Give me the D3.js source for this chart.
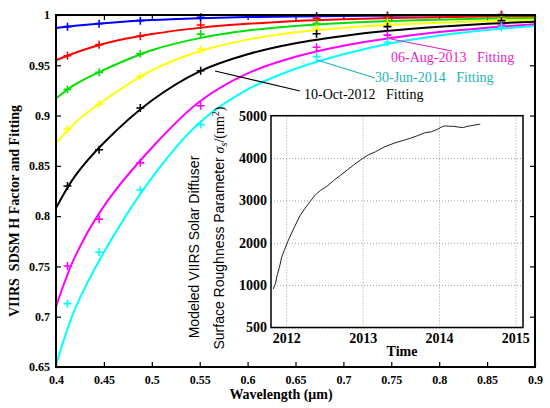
<!DOCTYPE html>
<html>
<head>
<meta charset="utf-8">
<script src="https://cdn.jsdelivr.net/npm/d3@7"></script>
<style>
  body { margin: 0; background: #fff; }
  svg { display: block; font-family: "Liberation Serif", "Times New Roman", serif; }
</style>
</head>
<body>
<div id="chart"></div>
<script>
(function() {
  'use strict';

  // measured SDSM H factor (crosses) at the VIIRS band wavelengths
  const bandWavelengths = [0.412, 0.445, 0.488, 0.551, 0.672, 0.746, 0.865];
  const hBlue    = [0.9884, 0.9914, 0.9944, 0.9977, 0.9990, 0.9995, 0.9998];
  const hRed     = [0.9595, 0.9705, 0.9788, 0.9900, 0.9967, 0.9980, 1.0005];
  const hGreen   = [0.9260, 0.9430, 0.9615, 0.9810, 0.9917, 0.9944, 0.9975];
  const hYellow  = [0.8863, 0.9112, 0.9390, 0.9660, 0.9868, 0.9922, 0.9960];
  const hBlack   = [0.8300, 0.8660, 0.9075, 0.9446, 0.9814, 0.9884, 0.9944];
  const hMagenta = [0.7504, 0.7970, 0.8530, 0.9098, 0.9680, 0.9800, 0.9900];
  const hCyan    = [0.7130, 0.7640, 0.8260, 0.8910, 0.9586, 0.9728, 0.9878];

  // fitting curves, read at these wavelengths
  const fitWavelengths = [0.40, 0.42, 0.45, 0.50, 0.55, 0.60, 0.65, 0.70, 0.75, 0.80, 0.85, 0.90];
  const fitBlue    = [0.9870, 0.9892, 0.9918, 0.9950, 0.9968, 0.9979, 0.9986, 0.9990, 0.9993, 0.9995, 0.9996, 0.9997];
  const fitRed     = [0.9550, 0.9625, 0.9715, 0.9810, 0.9872, 0.9912, 0.9940, 0.9958, 0.9970, 0.9978, 0.9984, 0.9988];
  const fitGreen   = [0.9170, 0.9310, 0.9455, 0.9650, 0.9770, 0.9845, 0.9890, 0.9920, 0.9940, 0.9954, 0.9964, 0.9971];
  const fitYellow  = [0.8720, 0.8930, 0.9150, 0.9450, 0.9640, 0.9755, 0.9828, 0.9872, 0.9902, 0.9924, 0.9940, 0.9953];
  const fitBlack   = [0.8080, 0.8400, 0.8730, 0.9150, 0.9440, 0.9610, 0.9720, 0.9792, 0.9845, 0.9883, 0.9912, 0.9934];
  const fitMagenta = [0.7100, 0.7600, 0.8100, 0.8680, 0.9140, 0.9420, 0.9585, 0.9695, 0.9772, 0.9830, 0.9874, 0.9908];
  const fitCyan    = [0.6520, 0.7080, 0.7640, 0.8380, 0.8930, 0.9260, 0.9465, 0.9610, 0.9720, 0.9797, 0.9852, 0.9890];

  const seriesColors = ['#0000ff', '#ff0000', '#00e000', '#ffff00', '#000000', '#ff00ff', '#00ffff'];
  const measured = [hBlue, hRed, hGreen, hYellow, hBlack, hMagenta, hCyan];
  const fits = [fitBlue, fitRed, fitGreen, fitYellow, fitBlack, fitMagenta, fitCyan];

  const xTicks = [0.4, 0.45, 0.5, 0.55, 0.6, 0.65, 0.7, 0.75, 0.8, 0.85, 0.9];
  const yTicks = [0.65, 0.7, 0.75, 0.8, 0.85, 0.9, 0.95, 1];

  // inset: modeled surface roughness parameter over time
  const insetYears = [2011.83, 2011.86, 2011.88, 2011.91, 2011.94, 2011.98, 2012.02, 2012.07, 2012.12,
    2012.18, 2012.24, 2012.31, 2012.38, 2012.45, 2012.53, 2012.62, 2012.70, 2012.80, 2012.90, 2013.00,
    2013.08, 2013.17, 2013.28, 2013.41, 2013.52, 2013.63, 2013.72, 2013.82, 2013.90, 2013.98, 2014.04,
    2014.08, 2014.14, 2014.19, 2014.26, 2014.32, 2014.37, 2014.41, 2014.47, 2014.54];
  const insetRoughness = [910, 1050, 1230, 1420, 1660, 1850, 2030, 2230, 2420,
    2640, 2800, 2970, 3130, 3240, 3330, 3470, 3580, 3720, 3860, 3990,
    4080, 4150, 4260, 4350, 4410, 4470, 4530, 4600, 4620, 4680, 4740,
    4760, 4750, 4750, 4730, 4720, 4750, 4760, 4780, 4800];
  const insetYearTicks = [2012, 2013, 2014, 2015];
  const insetValueTicks = [0, 1000, 2000, 3000, 4000, 5000];
  const insetValueLabels = ['500', '1000', '2000', '3000', '4000', '5000'];

  const width = 550;
  const height = 408;
  const serif = '"Liberation Serif", "Times New Roman", serif';
  const sans = '"Liberation Sans", Arial, sans-serif';

  const svg = d3.select('#chart')
    .append('svg')
    .attr('width', width)
    .attr('height', height);

  svg.append('rect')
    .attr('width', width)
    .attr('height', height)
    .attr('fill', '#fff');

  const x = d3.scaleLinear().domain([0.4, 0.9]).range([56, 535]);
  const y = d3.scaleLinear().domain([0.65, 1]).range([367, 15]);

  // axes with inward ticks on all four sides
  const fmt = d => String(+d.toFixed(2));
  const axisStyle = (g) => {
    g.selectAll('.domain').remove();
    g.selectAll('.tick line').attr('stroke', '#000').attr('stroke-width', 1.2);
    g.selectAll('.tick text')
      .style('font-family', serif)
      .attr('font-weight', 'bold')
      .attr('font-size', 12)
      .attr('fill', '#000');
  };

  svg.append('g')
    .attr('transform', `translate(0,${y(0.65)})`)
    .call(d3.axisBottom(x).tickValues(xTicks).tickFormat(fmt).tickSizeInner(-5).tickPadding(8))
    .call(axisStyle);
  svg.append('g')
    .attr('transform', `translate(0,${y(1)})`)
    .call(d3.axisTop(x).tickValues(xTicks).tickFormat('').tickSizeInner(-5))
    .call(axisStyle);
  svg.append('g')
    .attr('transform', `translate(${x(0.4)},0)`)
    .call(d3.axisLeft(y).tickValues(yTicks).tickFormat(fmt).tickSizeInner(-5).tickPadding(6))
    .call(axisStyle);
  svg.append('g')
    .attr('transform', `translate(${x(0.9)},0)`)
    .call(d3.axisRight(y).tickValues(yTicks).tickFormat('').tickSizeInner(-5))
    .call(axisStyle);

  // fitting curves
  const line = d3.line()
    .x((d, i) => x(fitWavelengths[i]))
    .y(d => y(d))
    .curve(d3.curveCatmullRom.alpha(0.5));

  svg.append('g')
    .selectAll('path')
    .data(fits)
    .join('path')
    .attr('d', line)
    .attr('fill', 'none')
    .attr('stroke', (d, i) => seriesColors[i])
    .attr('stroke-width', 2);

  // measured crosses
  const crossPath = 'M-4,0H4M0,-4V4';
  measured.forEach((values, s) => {
    svg.append('g')
      .selectAll('path')
      .data(values)
      .join('path')
      .attr('transform', (d, i) => `translate(${x(bandWavelengths[i])},${y(d)})`)
      .attr('d', crossPath)
      .attr('stroke', seriesColors[s])
      .attr('stroke-width', 1.6);
  });

  // frame
  svg.append('rect')
    .attr('x', x(0.4))
    .attr('y', y(1))
    .attr('width', x(0.9) - x(0.4))
    .attr('height', y(0.65) - y(1))
    .attr('fill', 'none')
    .attr('stroke', '#000')
    .attr('stroke-width', 2);

  // annotations
  const notes = [
    { text: '10-Oct-2012   Fitting', color: '#000', tx: 304, ty: 99, lx1: 215, ly1: 71, lx2: 300, ly2: 91 },
    { text: '06-Aug-2013   Fitting', color: '#e61ec8', tx: 391, ty: 62, lx1: 391, ly1: 39, lx2: 452, ly2: 51 },
    { text: '30-Jun-2014   Fitting', color: '#1ab4b4', tx: 375, ty: 82, lx1: 317, ly1: 60, lx2: 375, ly2: 78 }
  ];
  notes.forEach(n => {
    svg.append('line')
      .attr('x1', n.lx1).attr('y1', n.ly1)
      .attr('x2', n.lx2).attr('y2', n.ly2)
      .attr('stroke', n.color)
      .attr('stroke-width', 1.2);
    svg.append('text')
      .attr('x', n.tx)
      .attr('y', n.ty)
      .attr('font-size', 14)
      .attr('fill', n.color)
      .style('white-space', 'pre')
      .text(n.text);
  });

  // axis titles
  svg.append('text')
    .attr('x', 281)
    .attr('y', 399)
    .attr('text-anchor', 'middle')
    .attr('font-weight', 'bold')
    .attr('font-size', 14)
    .text('Wavelength (\u03bcm)');

  svg.append('text')
    .attr('transform', 'translate(19,211) rotate(-90)')
    .attr('text-anchor', 'middle')
    .attr('font-weight', 'bold')
    .attr('font-size', 14)
    .style('white-space', 'pre')
    .text('VIIRS  SDSM H Factor and Fitting');

  // inset chart
  const ix = d3.scaleLinear().domain([2011.8, 2015.1]).range([271, 523]);
  const iy = d3.scaleLinear().domain([0, 5000]).range([327.5, 115.7]);

  const inset = svg.append('g');

  inset.append('rect')
    .attr('x', ix(2011.8))
    .attr('y', iy(5000))
    .attr('width', ix(2015.1) - ix(2011.8))
    .attr('height', iy(0) - iy(5000))
    .attr('fill', '#fff');

  const insetAxisStyle = (g) => {
    g.selectAll('.domain').remove();
    g.selectAll('.tick line')
      .attr('stroke', '#888')
      .attr('stroke-width', 0.8)
      .attr('stroke-dasharray', '1,2');
    g.selectAll('.tick text')
      .style('font-family', serif)
      .attr('font-weight', 'bold')
      .attr('font-size', 14)
      .attr('fill', '#000');
  };

  inset.append('g')
    .attr('transform', `translate(0,${iy(0)})`)
    .call(d3.axisBottom(ix).tickValues(insetYearTicks).tickFormat(d3.format('d'))
      .tickSizeInner(-(iy(0) - iy(5000))).tickPadding(6))
    .call(insetAxisStyle);

  inset.append('g')
    .attr('transform', `translate(${ix(2011.8)},0)`)
    .call(d3.axisLeft(iy).tickValues(insetValueTicks)
      .tickFormat((d, i) => insetValueLabels[i])
      .tickSizeInner(-(ix(2015.1) - ix(2011.8))).tickPadding(4))
    .call(insetAxisStyle);

  inset.append('path')
    .datum(insetRoughness)
    .attr('d', d3.line().x((d, i) => ix(insetYears[i])).y(d => iy(d)))
    .attr('fill', 'none')
    .attr('stroke', '#222')
    .attr('stroke-width', 1);

  inset.append('rect')
    .attr('x', ix(2011.8))
    .attr('y', iy(5000))
    .attr('width', ix(2015.1) - ix(2011.8))
    .attr('height', iy(0) - iy(5000))
    .attr('fill', 'none')
    .attr('stroke', '#000')
    .attr('stroke-width', 1.5);

  inset.append('text')
    .attr('x', 402)
    .attr('y', 356)
    .attr('text-anchor', 'middle')
    .attr('font-weight', 'bold')
    .attr('font-size', 14)
    .text('Time');

  inset.append('text')
    .attr('transform', 'translate(199,247) rotate(-90)')
    .attr('text-anchor', 'middle')
    .style('font-family', sans)
    .attr('font-size', 14)
    .text('Modeled VIIRS Solar Diffuser');

  const title2 = inset.append('text')
    .attr('transform', 'translate(224,228) rotate(-90)')
    .attr('text-anchor', 'middle')
    .style('font-family', sans)
    .attr('font-size', 14);
  title2.append('tspan').text('Surface Roughness Parameter ');
  title2.append('tspan')
    .style('font-family', serif)
    .attr('font-style', 'italic')
    .text('\u03c3');
  title2.append('tspan')
    .style('font-family', serif)
    .attr('font-style', 'italic')
    .attr('font-size', 10)
    .attr('dy', 3)
    .text('s');
  title2.append('tspan')
    .style('font-family', serif)
    .attr('dy', -3)
    .text('/(nm');
  title2.append('tspan')
    .style('font-family', serif)
    .attr('font-size', 10)
    .attr('dy', -5)
    .text('2');
  title2.append('tspan')
    .style('font-family', serif)
    .attr('dy', 5)
    .text(')');
})();
</script>
</body>
</html>
